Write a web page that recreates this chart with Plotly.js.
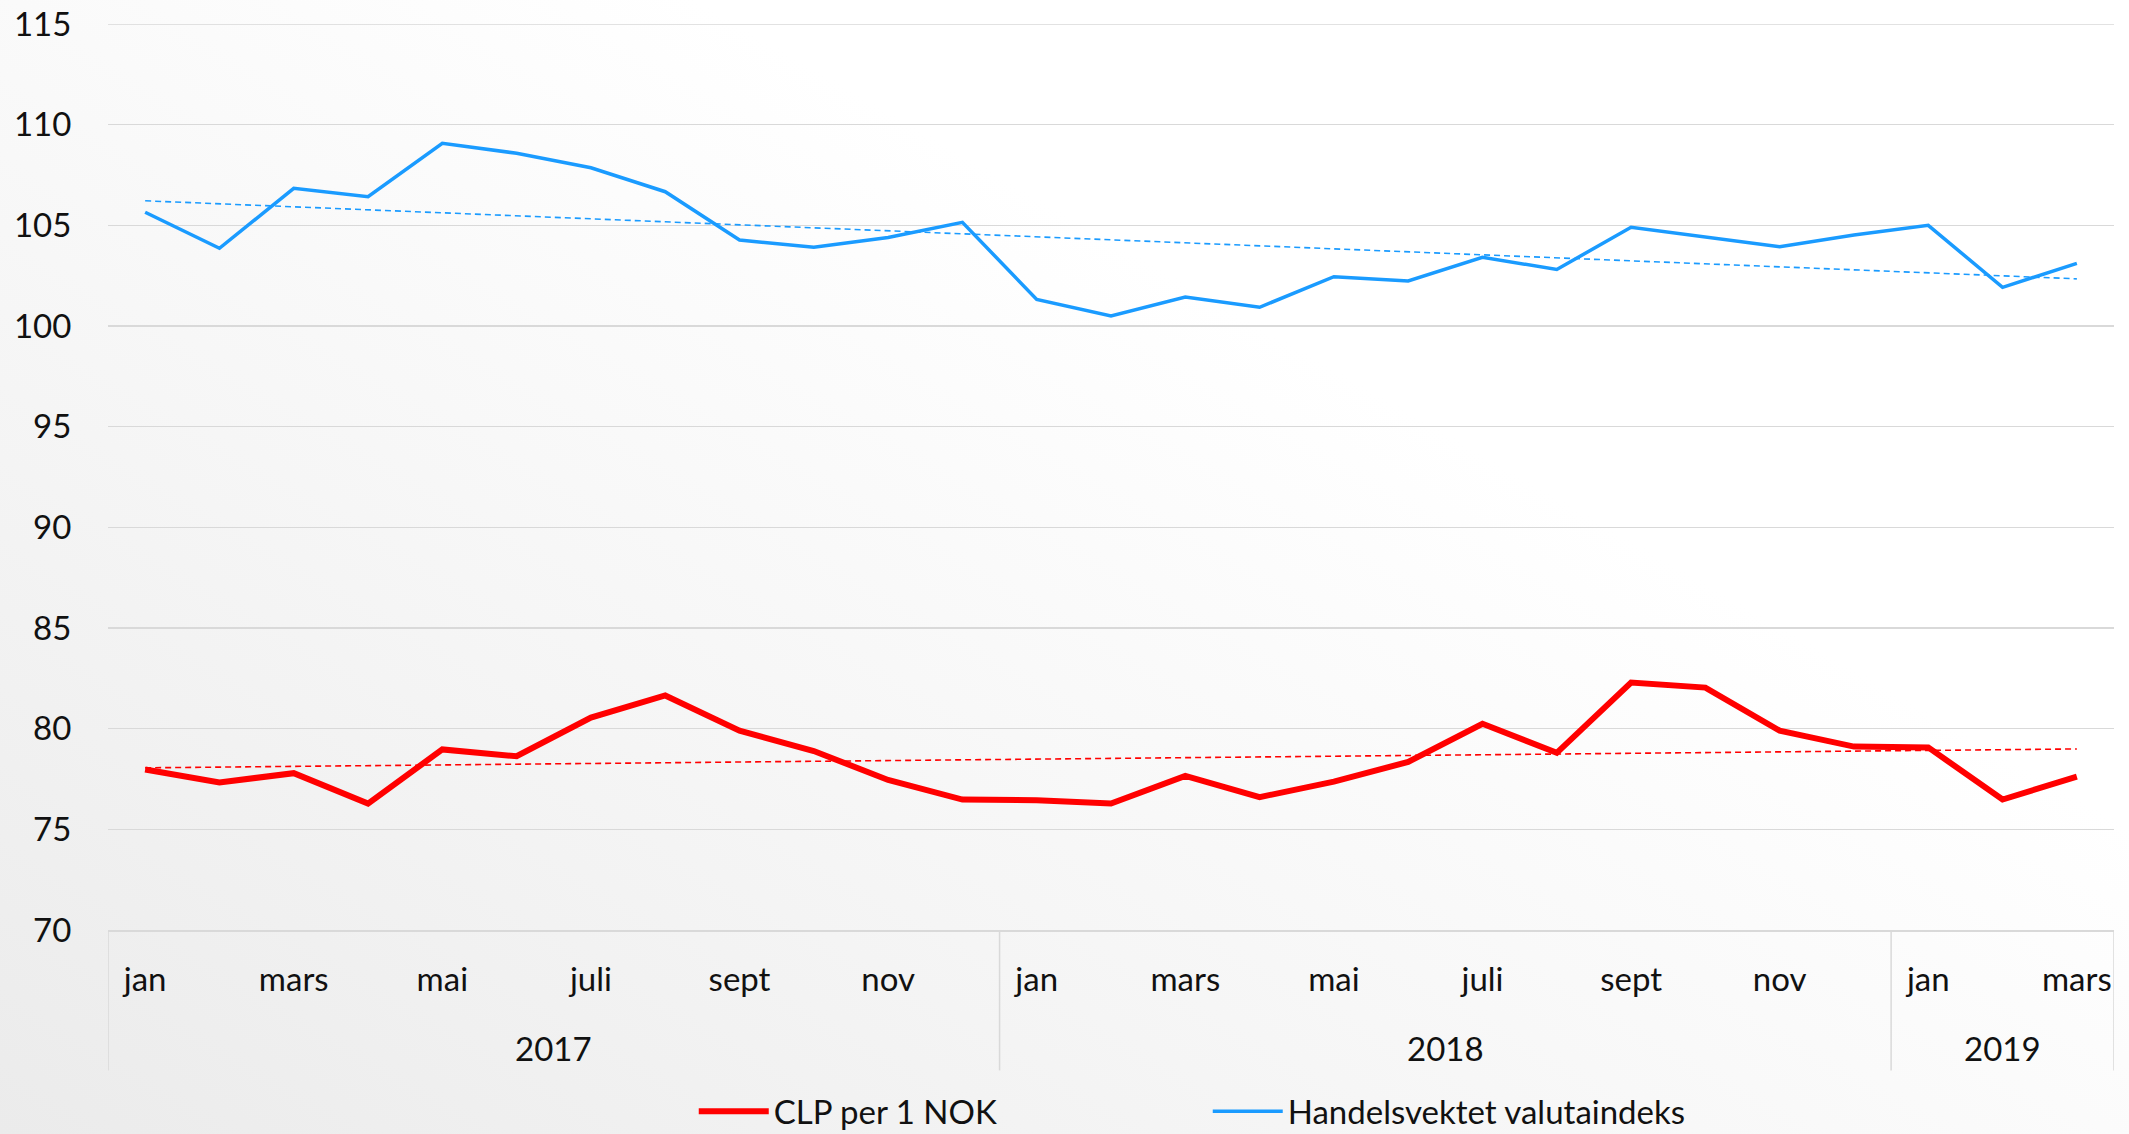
<!DOCTYPE html>
<html>
<head>
<meta charset="utf-8">
<script src="https://cdn.plot.ly/plotly-3.0.1.min.js"></script>
<style>
  html, body { margin: 0; padding: 0; }
  body {
    width: 2129px; height: 1134px; overflow: hidden;
    background: linear-gradient(30deg, #ebebeb 0%, #f6f6f6 35%, #ffffff 65%, #ffffff 100%);
  }
  #chart { width: 2129px; height: 1134px; }
</style>
</head>
<body>
<div id="chart"></div>
<script>
// ---- data ----
const years = ["2017","2017","2017","2017","2017","2017","2017","2017","2017","2017","2017","2017",
               "2018","2018","2018","2018","2018","2018","2018","2018","2018","2018","2018","2018",
               "2019","2019","2019"];
const months = ["jan","feb","mars","apr","mai","juni","juli","aug","sept","okt","nov","des",
                "jan","feb","mars","apr","mai","juni","juli","aug","sept","okt","nov","des",
                "jan","feb","mars"];
const clpPerNok = [77.97,77.33,77.79,76.28,78.97,78.63,80.55,81.65,79.90,78.89,77.45,76.48,
                   76.45,76.28,77.65,76.60,77.37,78.35,80.24,78.80,82.29,82.04,79.90,79.11,
                   79.07,76.48,77.62];
const handelsvektet = [105.65,103.86,106.84,106.42,109.07,108.58,107.86,106.67,104.27,103.91,104.40,105.15,
                       101.32,100.50,101.44,100.93,102.45,102.24,103.41,102.81,104.90,104.40,103.94,104.52,
                       105.00,101.92,103.11];
const yTicks = [70,75,80,85,90,95,100,105,110,115];

// ---- helpers ----
const idx = months.map((_, i) => i);
function linfit(y) {
  const n = y.length;
  const mx = idx.reduce((a,b)=>a+b,0)/n;
  const my = y.reduce((a,b)=>a+b,0)/n;
  let sxy = 0, sxx = 0;
  for (let i = 0; i < n; i++) { sxy += (idx[i]-mx)*(y[i]-my); sxx += (idx[i]-mx)**2; }
  const b = sxy/sxx, a = my - b*mx;
  return idx.map(x => a + b*x);
}
// only every other month label is shown (as in the original)
const tickVals = idx.filter(i => i % 2 === 0);
const tickText = tickVals.map(i => months[i]);

// year groups
const groups = [];
years.forEach((y, i) => {
  let g = groups.find(g => g.name === y);
  if (!g) { g = {name: y, start: i, end: i}; groups.push(g); }
  g.end = i;
});

const RED = "#ff0000", BLUE = "#1a9bff";
const FONT = "Lato, 'Open Sans', sans-serif";
const TXT = "#111";

const traces = [
  {x: idx, y: clpPerNok, type: "scatter", mode: "lines", name: "CLP per 1 NOK",
   line: {color: RED, width: 6}},
  {x: idx, y: handelsvektet, type: "scatter", mode: "lines", name: "Handelsvektet valutaindeks",
   line: {color: BLUE, width: 3.5}},
  {x: idx, y: linfit(clpPerNok), type: "scatter", mode: "lines", showlegend: false, hoverinfo: "skip",
   line: {color: RED, width: 1.6, dash: "6px,4px"}},
  {x: idx, y: linfit(handelsvektet), type: "scatter", mode: "lines", showlegend: false, hoverinfo: "skip",
   line: {color: BLUE, width: 1.6, dash: "6px,4px"}}
];

const shapes = [];
// top gridline (Plotly omits the gridline at the range edge)
shapes.push({type: "line", xref: "paper", yref: "y", x0: 0, x1: 1, y0: yTicks[yTicks.length-1], y1: yTicks[yTicks.length-1],
  line: {color: "#d9d9d9", width: 1.5}, layer: "below"});
const sepX = [-0.5].concat(groups.map(g => g.end + 0.5));
sepX.forEach(x => shapes.push({type: "line", xref: "x", yref: "paper", x0: x, x1: x, y0: 0, y1: -0.155,
  line: {color: "#d9d9d9", width: 1.5}}));

const annotations = groups.map(g => ({
  text: g.name, xref: "x", yref: "paper", x: (g.start + g.end)/2, y: -0.13,
  xanchor: "center", yanchor: "middle", showarrow: false,
  font: {family: FONT, size: 33, color: TXT}
}));

const layout = {
  width: 2129, height: 1134,
  paper_bgcolor: "rgba(0,0,0,0)", plot_bgcolor: "rgba(0,0,0,0)",
  margin: {l: 108, r: 15, t: 24, b: 204, autoexpand: false},
  font: {family: FONT, size: 33, color: TXT},
  showlegend: true,
  legend: {orientation: "h", x: 0.292, xanchor: "left", y: -0.2, yanchor: "middle",
           font: {family: FONT, size: 33, color: TXT}, itemwidth: 70,
           entrywidth: 429, entrywidthmode: "pixels", bgcolor: "rgba(0,0,0,0)"},
  xaxis: {range: [-0.5, 26.5], tickmode: "array", tickvals: tickVals, ticktext: tickText,
          showgrid: false, zeroline: false, showline: true, linecolor: "#d9d9d9", linewidth: 1.5,
          ticks: "outside", ticklen: 20, tickcolor: "rgba(0,0,0,0)", fixedrange: true},
  yaxis: {range: [70, 115], tickmode: "array", tickvals: yTicks, showgrid: true,
          gridcolor: "#d9d9d9", gridwidth: 1.5, zeroline: false, showline: false,
          ticks: "outside", ticklen: 29, tickcolor: "rgba(0,0,0,0)", fixedrange: true},
  shapes: shapes,
  annotations: annotations
};

Plotly.newPlot("chart", traces, layout, {staticPlot: true, displayModeBar: false});
</script>
</body>
</html>
